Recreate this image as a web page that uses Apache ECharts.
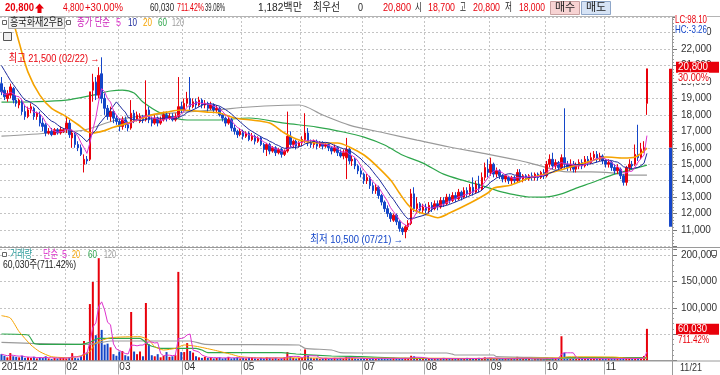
<!DOCTYPE html>
<html><head><meta charset="utf-8">
<script src="https://cdn.jsdelivr.net/npm/echarts@6.0.0/dist/echarts.min.js"></script>
<style>html,body{margin:0;padding:0;background:#fff;overflow:hidden}#chart{width:720px;height:375px}</style>
</head><body><div id="chart"></div>
<script>
// ---------- trading days (category axis) ----------
const days_2015_12=[29,30];
const days_2016_01=[4,5,6,7,8,11,12,13,14,15,18,19,20,21,22,25,26,27,28,29];
const days_2016_02=[1,2,3,4,5,11,12,15,16,17,18,19,22,23,24,25,26,29];
const days_2016_03=[2,3,4,7,8,9,10,11,14,15,16,17,18,21,22,23,24,25,28,29,30,31];
const days_2016_04=[1,4,5,6,7,8,11,12,14,15,18,19,20,21,22,25,26,27,28,29];
const days_2016_05=[2,3,4,9,10,11,12,13,16,17,18,19,20,23,24,25,26,27,30,31];
const days_2016_06=[1,2,3,7,8,9,10,13,14,15,16,17,20,21,22,23,24,27,28,29,30];
const days_2016_07=[1,4,5,6,7,8,11,12,13,14,15,18,19,20,21,22,25,26,27,28,29];
const days_2016_08=[1,2,3,4,5,8,9,10,11,12,16,17,18,19,22,23,24,25,26,29,30,31];
const days_2016_09=[1,2,5,6,7,8,9,12,13,19,20,21,22,23,26,27,28,29,30];
const days_2016_10=[4,5,6,7,10,11,12,13,14,17,18,19,20,21,24,25,26,27,28,31];
const days_2016_11=[1,2,3,4,7,8,9,10,11,14,15,16,17,18,21];
const emptySlots = 8;

// ---------- candles [open, close, low, high] ----------
const k_2015_12=[[19900,19400,19200,20300],[19500,19100,18900,19700]];
const k_2016_01=[[19000,19300,18800,19500],[19200,19700,19000,19900],[19600,18900,18700,19700],[18900,18700,18500,19200],[18600,18900,18400,19000],[18800,18200,18000,18900],[18200,17900,17700,18600],[17900,18300,17800,18500],[18300,18500,18100,18700],[18400,17900,17700,18500],[17900,18100,17700,18200],[18000,17500,17300,18200],[17500,17300,17000,17800],[17400,16900,16700,17500],[16900,17000,16800,17200],[17000,16800,16700,17200],[16800,17100,16800,17200],[17100,16900,16800,17200],[16900,17100,16800,17300],[17000,17100,16900,17200]];
const k_2016_02=[[17100,17500,16900,17900],[17500,16800,16600,17700],[16600,16900,16000,17100],[16800,16200,16000,16900],[16200,16000,15800,16400],[16000,15600,15500,16200],[15000,15300,14500,15600],[15300,15200,15000,15500],[15300,19400,15200,19400],[19500,20000,18800,20500],[20000,19200,18900,20300],[19200,20400,19000,20900],[20500,19000,18700,21500],[19000,18400,18000,19300],[18400,17900,17700,18600],[17900,18200,17600,18500],[18200,17800,17500,18300],[17800,17600,17400,18000]];
const k_2016_03=[[17600,17300,17000,17800],[17300,17700,17100,17900],[17700,17400,17200,17900],[17400,17200,17000,17600],[17200,18100,17100,18900],[18100,17700,17500,18300],[17700,18000,17600,18200],[17600,17900,17500,18100],[17900,17700,17500,18000],[17700,18300,17600,20100],[18300,17700,17500,18500],[17700,17500,17300,17900],[17500,17800,17400,18000],[17800,17500,17300,17900],[17500,17700,17400,17900],[17700,18000,17600,18200],[18000,17800,17600,18200],[17800,17900,17700,18100],[17900,17700,17600,18100],[17700,17900,17600,18100],[17900,18500,17800,20300],[18500,18300,18100,18800]];
const k_2016_04=[[18300,18700,18200,19000],[18700,19000,18500,19400],[19000,18500,18300,20300],[18500,18800,18400,19000],[18800,18600,18400,19000],[18600,18900,18500,19100],[18900,18600,18400,19000],[18600,18700,18400,18900],[18700,18400,18200,18800],[18400,18600,18300,18800],[18600,18300,18100,18700],[18300,18400,18100,18600],[18400,18000,17900,18500],[18000,17800,17600,18100],[17800,17500,17300,17900],[17500,17700,17400,17900],[17700,17200,17000,17800],[17200,17000,16800,17400],[17000,16800,16600,17100],[16800,17000,16700,17200]];
const k_2016_05=[[17000,16700,16500,17100],[16700,16900,16600,17000],[16900,16500,16400,17000],[16500,16700,16400,16900],[16700,16400,16200,16800],[16400,16600,16300,16700],[16600,16200,16100,16700],[16200,15900,15700,16300],[15900,16200,15500,16300],[16200,15800,15600,16300],[15800,16000,15700,16100],[16000,15700,15500,16100],[15700,15900,15600,16000],[15900,15600,15400,16000],[15600,15800,15500,15900],[15800,16700,15700,18200],[16700,16200,16000,17000],[16200,16400,16000,16500],[16400,16100,15900,16500],[16100,16300,16000,16400]];
const k_2016_06=[[16300,16500,16100,16700],[16500,16900,16300,18100],[16900,16300,16100,17200],[16300,16200,16000,16500],[16200,16400,16000,16500],[16400,16100,15900,16500],[16100,16300,16000,16400],[16300,16100,15900,16400],[16100,16200,16000,16300],[16200,16000,15800,16300],[16000,15800,15600,16100],[15800,16000,15700,16200],[16000,15700,15500,16100],[15700,15500,15400,15900],[15500,15700,15300,15900],[15400,15900,14100,16600],[15900,15200,15000,16000],[15200,15300,14900,15500],[15300,14900,14700,15400],[14900,14600,14400,15000],[14600,14400,14200,14800]];
const k_2016_07=[[14400,14000,13800,14500],[14000,14200,13800,14400],[14200,13700,13500,14300],[13700,13400,13200,13900],[13400,13600,13200,13800],[13600,13100,12900,13700],[13100,12700,12500,13200],[12700,12300,12100,12800],[12300,12000,11800,12500],[12000,11700,11500,12100],[11600,11900,11500,12000],[11900,11500,11300,12000],[11500,11100,10900,11600],[11100,10900,10700,11200],[10900,11200,10500,11300],[11200,11400,11000,11600],[11400,13200,11300,13500],[13200,12300,12100,13600],[12300,12600,12000,13000],[12600,12200,12000,12700],[12200,12400,12000,12600]];
const k_2016_08=[[12400,12200,11900,12600],[12200,12500,12000,12700],[12500,12300,12100,12700],[12300,12600,12200,12800],[12600,12400,12200,12800],[12400,12800,12300,13000],[12800,12600,12400,13000],[12600,13000,12500,13200],[13000,12800,12600,13200],[12800,13100,12700,13300],[13100,12900,12700,13300],[12900,13300,12800,13500],[13300,13000,12800,13400],[13000,13400,12900,13600],[13400,13200,13000,13600],[13200,13600,13100,13800],[13600,13300,13100,14200],[13300,13800,13200,14000],[13800,13500,13300,14300],[13500,14200,13400,14500],[14200,14800,14000,15100],[14700,14500,14200,15300]];
const k_2016_09=[[14500,15000,14300,15400],[15000,14400,14200,15100],[14400,14600,14200,14800],[14600,14300,14100,14700],[14300,14100,13900,14400],[14100,14300,13900,14400],[14200,14000,13800,14300],[14000,14200,13800,14300],[14200,14000,13800,14300],[14000,14500,13900,14700],[14500,14100,13900,14700],[14100,14300,13900,14400],[14300,14100,14000,14400],[14100,14300,14000,14400],[14300,14200,14000,14500],[14200,14400,14000,14500],[14400,14200,14000,14500],[14200,14500,14100,14600],[14500,14300,14100,14700]];
const k_2016_10=[[14300,15000,14200,15200],[15000,15300,14800,15600],[15300,14900,14700,15700],[14900,15100,14700,15300],[15100,14800,14600,15200],[14800,15400,14700,15600],[15400,15000,14700,18400],[15000,14800,14600,15200],[14800,15000,14600,15300],[15000,14700,14500,15200],[14700,14900,14500,15100],[14900,15100,14700,15300],[15100,14900,14700,15300],[14900,15300,14800,15500],[15300,15100,14900,15500],[15100,15400,15000,15700],[15400,15600,15200,15800],[15600,15300,15100,15800],[15300,15500,15200,15700],[15500,15200,15000,15600]];
const k_2016_11=[[15200,15000,14800,15300],[15000,15100,14800,15300],[15100,14800,14600,15200],[14800,14600,14400,15000],[14600,14800,14400,15000],[14700,14300,14100,14800],[14300,13900,13700,14400],[13900,14800,13700,14900],[14800,15000,14600,15300],[15000,14900,14700,15200],[15000,15600,14900,16200],[15600,15400,15200,17400],[15400,15900,15300,16300],[15900,16000,15700,16400],[18700,20800,18000,20800]];

// ---------- volumes ----------
const v_2015_12=[12000,9000];
const v_2016_01=[6000,14000,8000,7000,6000,9000,5000,6000,5000,7000,4000,6000,5000,8000,4000,3000,5000,4000,6000,5000];
const v_2016_02=[4000,6000,14000,5000,4000,8000,37000,15000,107000,149000,48000,194000,58000,30000,32000,25000,12000,9000];
const v_2016_03=[17000,18000,10000,8000,92000,17000,12000,17000,8000,109000,31000,10000,8000,12000,6000,9000,16000,7000,8000,10000,168000,16000];
const v_2016_04=[16000,33000,18000,15000,8000,6000,5000,7000,5000,6000,4000,5000,6000,4000,5000,7000,4000,5000,6000,4000];
const v_2016_05=[5000,4000,6000,5000,4000,3000,5000,4000,6000,5000,4000,5000,3000,4000,6000,16000,8000,5000,4000,5000];
const v_2016_06=[5000,21000,9000,5000,4000,5000,3000,4000,5000,3000,4000,5000,4000,5000,4000,7000,6000,5000,4000,3000,4000];
const v_2016_07=[4000,3000,4000,5000,3000,4000,5000,4000,3000,4000,5000,4000,3000,4000,5000,4000,9000,8000,5000,4000,3000];
const v_2016_08=[4000,3000,4000,3000,4000,3000,5000,4000,3000,4000,3000,4000,3000,4000,5000,3000,4000,3000,5000,4000,6000,5000];
const v_2016_09=[5000,4000,3000,4000,3000,4000,3000,4000,3000,7000,4000,3000,4000,3000,2000,3000,4000,3000,3000];
const v_2016_10=[4000,3000,5000,4000,3000,46000,15000,5000,4000,3000,4000,3000,4000,3000,4000,3000,4000,3000,4000,3000];
const v_2016_11=[3000,4000,3000,4000,3000,4000,5000,4000,3000,4000,3000,5000,4000,8438,60030];

// ---------- moving averages: [dayIndex, value] ----------
const ma10Head=[21000,20700,20400,20100,19850,19600,19350,19100,18900]; // first 9 days (window reaches before the chart)
const ma20Pts=[[0,26500],[4,23700],[6,22400],[9,20600],[13,19200],[17,18400],[21,18000],[26,17400],[29,17000],[31,16900],[35,17050],[38,17250],[43,17500],[47,17750],[51,18000],[56,18170],[61,18300],[65,18250],[70,18170],[74,18110],[79,17810],[84,17700],[91,17500],[96,16900],[101,16470],[107,16290],[114,16290],[118,16050],[123,15560],[127,14950],[132,14040],[135,13250],[138,12520],[140,12200],[145,11900],[148,11750],[152,12030],[159,12640],[165,13250],[167,13550],[173,13740],[179,14160],[186,14470],[193,14830],[200,15190],[205,15440],[211,15380],[215,15440],[219,15980]];
const ma60Pts=[[0,18780],[11,18800],[22,18900],[31,19200],[37,19450],[41,19510],[45,19330],[48,18780],[54,18110],[63,17690],[73,17690],[84,17810],[96,17500],[107,17260],[116,16960],[123,16650],[130,16170],[136,15560],[143,15070],[150,14400],[157,14000],[163,13700],[169,13350],[174,13150],[179,13010],[184,13000],[190,13200],[195,13550],[201,13920],[207,14340],[213,14650],[219,14950]];
const ma120Pts=[[0,16710],[17,16900],[28,17080],[39,17690],[50,17990],[62,18170],[73,18300],[84,18480],[101,18600],[109,17990],[118,17380],[130,16900],[141,16470],[152,16050],[163,15680],[175,15260],[182,14950],[192,14530],[200,14530],[207,14470],[213,14340],[219,14340]];
const vma20Pts=[[0,85000],[3,80600],[6,54600],[10,29400],[13,16700],[17,7200],[23,5300],[28,10400],[30,16700],[32,33000],[37,43200],[47,45100],[50,38900],[52,26200],[55,19900],[59,23100],[62,29400],[66,27000],[72,19900],[78,11700],[81,7200],[88,5000],[101,5000],[110,4500],[140,4500],[160,4000],[190,5000],[192,7000],[208,6500],[212,4500],[218,4200],[219,6600]];
const vma60Pts=[[0,50200],[9,48300],[11,32600],[13,30700],[27,30700],[30,34500],[33,42000],[47,42000],[50,29400],[54,23100],[66,23100],[68,19900],[70,14800],[95,14800],[100,12300],[112,8500],[122,7200],[140,4100],[180,3500],[186,2300],[191,5300],[210,5300],[219,5500]];
const vma120Pts=[[0,34500],[10,32600],[27,30700],[30,30700],[37,37000],[64,37000],[69,30700],[101,29400],[103,23100],[112,19900],[115,14800],[122,14200],[151,14200],[153,12000],[154,10400],[167,10400],[168,7200],[185,5300],[190,4100],[219,4100]];

// ---------- reference levels ----------
const upperLimit=20800, prevClose=16000, lowerLimit=11200;
const priceAxis={min:10000,max:23950,step:1000};
const volAxis={min:0,max:211400,step:50000};

// ---------- build ----------
const months=[['2015/12',days_2015_12,k_2015_12,v_2015_12],['2016/01',days_2016_01,k_2016_01,v_2016_01],['2016/02',days_2016_02,k_2016_02,v_2016_02],['2016/03',days_2016_03,k_2016_03,v_2016_03],['2016/04',days_2016_04,k_2016_04,v_2016_04],['2016/05',days_2016_05,k_2016_05,v_2016_05],['2016/06',days_2016_06,k_2016_06,v_2016_06],['2016/07',days_2016_07,k_2016_07,v_2016_07],['2016/08',days_2016_08,k_2016_08,v_2016_08],['2016/09',days_2016_09,k_2016_09,v_2016_09],['2016/10',days_2016_10,k_2016_10,v_2016_10],['2016/11',days_2016_11,k_2016_11,v_2016_11]];
const cats=[],ohlc=[],vols=[],monthStart={};
months.forEach(([m,d,k,v])=>{monthStart[cats.length]=m;d.forEach(x=>cats.push(m+'/'+String(x).padStart(2,'0')));k.forEach(x=>ohlc.push(x));v.forEach(x=>vols.push(x));});
const nReal=cats.length;
for(let i=0;i<emptySlots;i++)cats.push('~'+i);
const closes=ohlc.map(r=>r[1]);
function movAvg(arr,n){return arr.map((_,i)=>{const s=Math.max(0,i-n+1);let t=0;for(let j=s;j<=i;j++)t+=arr[j];return +(t/(i-s+1)).toFixed(1);});}
const ma5=movAvg(closes,5), vma5=movAvg(vols,5);
const ma10=movAvg(closes,10).map((v,i)=>i<ma10Head.length?ma10Head[i]:v);
const UP='#e8000b', DOWN='#1446c8';
const C5='#dd33cc', C10='#1c2a9c', C20='#f5a300', C60='#2ea64c', C120='#9a9a9a';
const FAM='"Liberation Sans","Noto Sans CJK KR",sans-serif';
const FONT='11px '+FAM, BFONT='bold 11px '+FAM;
const fmt=n=>Math.round(n).toLocaleString('en-US');
const showLabel=(idx)=>{if(idx===0)return true;const m=monthStart[idx];return !!m && !m.endsWith('/01');};
const labelText=(v,idx)=>{if(idx===0)return cats[0].slice(0,7);const m=monthStart[idx];return m?m.slice(5):'';};
const dotted={color:'#c4c4c4',type:[2,2],width:1};

const option={
  animation:false,
  grid:[{left:0,top:17,width:672,height:229.5,outerBoundsMode:'none'},{left:0,top:249,width:672,height:111.5,outerBoundsMode:'none'}],
  xAxis:[
    {type:'category',gridIndex:0,data:cats,boundaryGap:true,axisLine:{show:false},axisTick:{show:false},axisLabel:{show:false},
     splitLine:{show:true,interval:(i)=>showLabel(i)&&i>0,lineStyle:dotted}},
    {type:'category',gridIndex:1,data:cats,boundaryGap:true,axisLine:{show:true,lineStyle:{color:'#999'}},
     axisTick:{show:true,interval:(i)=>showLabel(i)&&i>0,length:14,lineStyle:{color:'#aaa'}},
     axisLabel:{show:true,interval:(i)=>showLabel(i),formatter:labelText,align:'left',margin:2,fontSize:10,color:'#333',fontFamily:'Liberation Sans'},
     splitLine:{show:true,interval:(i)=>showLabel(i)&&i>0,lineStyle:dotted}}
  ],
  yAxis:[
    {type:'value',gridIndex:0,position:'right',min:priceAxis.min,max:priceAxis.max,interval:priceAxis.step,
     axisLine:{show:false},axisTick:{show:true,length:5,lineStyle:{color:'#777'}},
     minorTick:{show:true,splitNumber:5,length:2,lineStyle:{color:'#999'}},
     axisLabel:{margin:9,fontSize:10,color:'#333',fontFamily:'Liberation Sans',formatter:v=>(v%1000===0&&v>priceAxis.min)?fmt(v):''},
     splitLine:{show:true,lineStyle:dotted}},
    {type:'value',gridIndex:1,position:'right',min:volAxis.min,max:volAxis.max,interval:volAxis.step,
     axisLine:{show:false},axisTick:{show:true,length:5,lineStyle:{color:'#777'}},
     minorTick:{show:true,splitNumber:5,length:2,lineStyle:{color:'#999'}},
     axisLabel:{margin:9,fontSize:10,color:'#333',fontFamily:'Liberation Sans',formatter:v=>(v%50000===0&&v>=100000)?fmt(v):''},
     splitLine:{show:true,lineStyle:dotted}}
  ],
  series:[
    {type:'line',name:'MA120',data:ma120Pts,xAxisIndex:0,yAxisIndex:0,showSymbol:false,symbol:'none',smooth:0.3,lineStyle:{color:C120,width:1.2},z:2},
    {type:'line',name:'MA60',data:ma60Pts,xAxisIndex:0,yAxisIndex:0,showSymbol:false,symbol:'none',smooth:0.3,lineStyle:{color:C60,width:1.2},z:2},
    {type:'candlestick',data:ohlc,xAxisIndex:0,yAxisIndex:0,barWidth:2,
     itemStyle:{color:UP,color0:DOWN,borderColor:UP,borderColor0:DOWN,borderWidth:1},z:3},
    {type:'line',name:'MA20',data:ma20Pts,xAxisIndex:0,yAxisIndex:0,showSymbol:false,symbol:'none',smooth:0.3,lineStyle:{color:C20,width:1.6},z:4},
    {type:'line',name:'MA10',data:ma10,xAxisIndex:0,yAxisIndex:0,showSymbol:false,symbol:'none',lineStyle:{color:C10,width:1},z:4},
    {type:'line',name:'MA5',data:ma5,xAxisIndex:0,yAxisIndex:0,showSymbol:false,symbol:'none',lineStyle:{color:C5,width:1},z:4},
    {type:'line',data:[[cats.length-1,upperLimit],[cats.length-1,prevClose]],xAxisIndex:0,yAxisIndex:0,showSymbol:false,symbol:'none',lineStyle:{color:UP,width:3},z:5},
    {type:'line',data:[[cats.length-1,prevClose],[cats.length-1,lowerLimit]],xAxisIndex:0,yAxisIndex:0,showSymbol:false,symbol:'none',lineStyle:{color:DOWN,width:3},z:5},
    {type:'bar',data:vols.map((v,i)=>({value:v,itemStyle:{color:ohlc[i][1]>=ohlc[i][0]?UP:DOWN}})),xAxisIndex:1,yAxisIndex:1,barWidth:2,z:3},
    {type:'line',data:vma120Pts,xAxisIndex:1,yAxisIndex:1,showSymbol:false,symbol:'none',smooth:0.2,lineStyle:{color:C120,width:1.2},z:4},
    {type:'line',data:vma60Pts,xAxisIndex:1,yAxisIndex:1,showSymbol:false,symbol:'none',smooth:0.2,lineStyle:{color:C60,width:1.2},z:4},
    {type:'line',data:vma20Pts,xAxisIndex:1,yAxisIndex:1,showSymbol:false,symbol:'none',smooth:0.2,lineStyle:{color:C20,width:1},z:4},
    {type:'line',data:vma5,xAxisIndex:1,yAxisIndex:1,showSymbol:false,symbol:'none',lineStyle:{color:C5,width:1},z:4}
  ]
};
const chart=echarts.init(document.getElementById('chart'));
chart.setOption(option);

// ---------- text & frame ----------
const mctx=document.createElement('canvas').getContext('2d');
function T(x,y,s,fill,extra,font){return {type:'text',silent:true,z:100,x:x,y:y,style:Object.assign({text:s,fill:fill,font:font||FONT,align:'left',verticalAlign:'middle',textAlign:'left',textVerticalAlign:'middle'},extra||{})};}
// text squeezed to the width it occupies in the reference
function TW(x,y,s,fill,w,extra,font){const el=T(x,y,s,fill,extra,font);mctx.font=font||FONT;const m=mctx.measureText(s).width;el.scaleX=Math.min(1.15,w/m);return el;}
function L(x1,y1,x2,y2,c){return {type:'line',silent:true,z:90,shape:{x1,y1,x2,y2},style:{stroke:c,lineWidth:1}};}
function R(x,y,w,h,fill,stroke){return {type:'rect',silent:true,z:95,shape:{x,y,width:w,height:h},style:{fill:fill,stroke:stroke||null,lineWidth:1}};}
const last=ohlc[nReal-1], lastVol=vols[nReal-1], prevVol=vols[nReal-2];
const chg=last[1]-prevClose, pct=chg/prevClose*100, vpct=lastVol/prevVol*100;
const g=[];
const RIGHT={align:'right',textAlign:'right'};
// header
g.push(L(0,16.5,720,16.5,'#b4b4b4'));
g.push(TW(5,8,fmt(last[1]),UP,29,null,BFONT));
g.push({type:'polygon',silent:true,z:100,shape:{points:[[39.5,3.5],[44,8.5],[41.5,8.5],[41.5,13],[37.5,13],[37.5,8.5],[35,8.5]]},style:{fill:UP}});
g.push(TW(63,8,fmt(chg),UP,21));
g.push(TW(85,8,'+'+pct.toFixed(2)+'%',UP,38));
g.push(TW(174,8,fmt(lastVol),'#222',24,RIGHT));
g.push(TW(177,8,vpct.toFixed(2)+'%',UP,27));
g.push(TW(205,8,'39.08%','#222',20));
g.push(TW(258,8,'1,182백만','#222',44));
g.push(TW(313,8,'최우선','#222',27));
g.push(TW(358,8,'0','#222',5));
g.push(TW(383,8,fmt(last[1]),UP,28));
g.push(TW(415,8,'시','#222',7));g.push(TW(428,8,fmt(last[0]),UP,27));
g.push(TW(460,8,'고','#222',6));g.push(TW(473,8,fmt(last[3]),UP,27));
g.push(TW(505,8,'저','#222',7));g.push(TW(519,8,fmt(last[2]),UP,26));
g.push(R(550.5,1.5,29,13,'#f7d3d3','#c9a0a0'));g.push(T(565,8,'매수','#222',{align:'center',textAlign:'center'}));
g.push(R(581.5,1.5,29,13,'#d6e3f5','#8ea6c8'));g.push(T(596,8,'매도','#222',{align:'center',textAlign:'center'}));
// frame
g.push(L(0,247.5,720,247.5,'#9a9a9a'));
g.push(L(0,361,720,361,'#9a9a9a'));
g.push(L(672.5,17,672.5,375,'#9a9a9a'));
// price legend
g.push(R(2.5,20.5,4,4,'#fff','#666'));
g.push(R(8.5,17.5,56,11,'#f3f3f3','#a8a8a8'));
g.push(TW(10,23,'흥국화재2우B','#222',53));
g.push(R(66.5,20.5,4,4,'#fff','#666'));
g.push(TW(77,23,'종가 단순','#cc22bb',33));
g.push(TW(116,23,'5',C5,5));g.push(TW(128,23,'10',C10,9));g.push(TW(143,23,'20',C20,9));g.push(TW(158,23,'60',C60,9));g.push(TW(172,23,'120',C120,12));
g.push(R(3.5,32.5,8,8,'#eee','#555'));g.push(L(3.5,35.5,11.5,35.5,'#555'));
// volume legend
g.push(R(2.5,252.5,4,4,'#fff','#666'));
g.push(TW(10,255,'거래량','#2a9a9a',22));
g.push(TW(43,255,'단순',C5,15));g.push(TW(62,255,'5',C5,5));g.push(TW(72,255,'20',C20,8));g.push(TW(88,255,'60',C60,9));g.push(TW(104,255,'120',C120,12));
g.push(TW(3,265,fmt(lastVol)+'주('+vpct.toFixed(2)+'%)','#222',73));
g.push(R(711.5,250.5,5,5,'#fff','#666'));
// right side indicators
g.push(TW(675,20,'LC:98.10',UP,32,{backgroundColor:'#fff'}));
g.push(TW(675,30,'HC:-3.26',DOWN,32,{backgroundColor:'#fff',padding:[1,0,1,0]}));
// extremes
let maxI=0,minI=0;for(let i=0;i<nReal;i++){if(ohlc[i][3]>ohlc[maxI][3])maxI=i;if(ohlc[i][2]<ohlc[minI][2])minI=i;}
const pMax=chart.convertToPixel({gridIndex:0},[maxI,ohlc[maxI][3]]);
const pMin=chart.convertToPixel({gridIndex:0},[minI,ohlc[minI][2]]);
g.push(TW(pMax[0]-2,pMax[1]+2,'최고 '+fmt(ohlc[maxI][3])+' ('+cats[maxI].slice(5)+') →',UP,91,RIGHT));
g.push(TW(pMin[0]-2,pMin[1]+2,'최저 '+fmt(ohlc[minI][2])+' ('+cats[minI].slice(5)+') →',DOWN,93,RIGHT));
// last price tag
const pLast=chart.convertToPixel({gridIndex:0},[nReal-1,last[1]]);
g.push(R(676,pLast[1]-7,43,11,UP));
g.push(TW(678,pLast[1]-1.5,fmt(last[1]),'#fff',30));
g.push(TW(678,pLast[1]+9,pct.toFixed(2)+'%',UP,31,{backgroundColor:'#fff'}));
const pVol=chart.convertToPixel({gridIndex:1},[nReal-1,lastVol]);
g.push(R(676,pVol[1]-5,43,11,UP));
g.push(TW(678,pVol[1]+0.5,fmt(lastVol),'#fff',29));
g.push(TW(678,pVol[1]+11,vpct.toFixed(2)+'%',UP,31,{backgroundColor:'#fff'}));
g.push(TW(680,368,cats[nReal-1].slice(5),'#333',22));
chart.setOption({graphic:{elements:g}});
</script></body></html>
